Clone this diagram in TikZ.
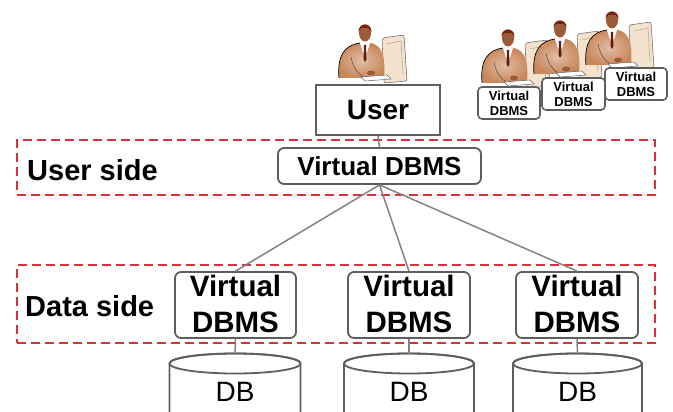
\documentclass[tikz,border=0pt]{standalone}
\usepackage{fontspec}
\setmainfont{Liberation Sans}
\definecolor{boxgray}{HTML}{5E5E5E}
\definecolor{linegray}{HTML}{838383}
\definecolor{sidered}{HTML}{DA323C}
\definecolor{skin}{HTML}{C8875A}
\definecolor{face}{HTML}{9A5B36}
\definecolor{hair}{HTML}{7A1E14}
\definecolor{monitor}{HTML}{F5E2CE}

\tikzset{
  plainbox/.style={draw=boxgray, line width=2pt, fill=white, inner sep=0pt},
  vbox/.style={draw=boxgray, line width=1.8pt, fill=white, rounded corners=6pt, inner sep=0pt, align=center},
  bigfont/.style={font=\fontsize{29.5}{36.5}\selectfont\bfseries},
  smallfont/.style={font=\fontsize{13}{15}\selectfont\bfseries},
  siderect/.style={draw=sidered, line width=1.8pt, dash pattern=on 9pt off 5pt, inner sep=0pt},
  sidelabel/.style={anchor=west, inner sep=0pt, font=\fontsize{29}{32}\selectfont\bfseries},
  link/.style={draw=linegray, line width=1.5pt},
  person/.pic={
    % monitor
    \filldraw[fill=monitor, draw=black!55, line width=0.6pt, rounded corners=2pt]
      (17,5) -- (39,2) -- (42,48) -- (19,50) -- cycle;
    \draw[black!35, line width=0.5pt] (22,11) -- (36,8) -- (38,42);
    % torso
    \shade[inner color=skin!55!white, outer color=skin]
      (-26,45) .. controls (-28,22) and (-20,12) .. (-5,10) -- (6,10)
      .. controls (16,12) and (21,22) .. (19,45) -- cycle;
    \draw[black, line width=0.7pt]
      (-26,45) .. controls (-28,22) and (-20,12) .. (-5,10);
    \draw[black!70, line width=0.5pt] (-14,24) .. controls (-12,34) and (-8,40) .. (-2,44);
    % collar and tie
    \fill[white] (-5,10) -- (5,10) -- (0,26) -- cycle;
    \fill[hair!80!black] (-1,12) -- (1,12) -- (1.5,26) -- (0,29) -- (-1.5,26) -- cycle;
    % hands on keyboard
    \filldraw[fill=white, draw=black!60, line width=0.5pt]
      (-4,44) -- (22,42) -- (26,46) -- (0,48) -- cycle;
    \fill[face] (6,40) ellipse (4 and 2.5);
    % head
    \fill[face] (0,0) ellipse (6 and 8.5);
    \fill[hair] (-6.5,-1) .. controls (-7,-11) and (7,-11) .. (6.5,-1)
      -- (4,-5) -- (-4,-5) -- cycle;
  }
}

\begin{document}
\begin{tikzpicture}[x=1pt, y=-1pt]
\useasboundingbox (0,0) rectangle (673,412);

% users at their workstations
\pic at (365,33) {person};
\pic at (508,38) {person};
\pic at (560,29) {person};
\pic at (612,20) {person};

% virtual DBMS instances of the other users
\node[vbox, smallfont, line width=1.6pt, rounded corners=4pt, minimum width=62pt, minimum height=32pt] (s1) at (509,103) {Virtual\\DBMS};
\node[vbox, smallfont, line width=1.6pt, rounded corners=4pt, minimum width=63pt, minimum height=32pt] (s2) at (573.5,94) {Virtual\\DBMS};
\node[vbox, smallfont, line width=1.6pt, rounded corners=4pt, minimum width=62pt, minimum height=32pt] (s3) at (636,84) {Virtual\\DBMS};

% side regions
\node[siderect, minimum width=638pt, minimum height=55pt] (userside) at (336,167.5) {};
\node[siderect, minimum width=638pt, minimum height=78pt] (dataside) at (336,304) {};
\node[sidelabel] (userlbl) at (27,170) {User side};
\node[sidelabel] (datalbl) at (25,306) {Data side};

% user and user-side virtual DBMS
\node[plainbox, font=\fontsize{28}{32}\selectfont\bfseries, minimum width=124pt, minimum height=50pt] (user) at (378,110) {User};
\node[vbox, font=\fontsize{26}{30}\selectfont\bfseries, minimum width=203pt, minimum height=36pt] (uv) at (379.5,166) {Virtual DBMS};

% data-side virtual DBMS instances
\node[vbox, minimum width=121pt, minimum height=66pt] (d1) at (235.5,305) {};
\node[vbox, minimum width=122pt, minimum height=66pt] (d2) at (409,305) {};
\node[vbox, minimum width=122pt, minimum height=66pt] (d3) at (577,305) {};
\foreach \n in {1,2,3}{
  \node[bigfont, align=center, inner sep=0pt] (t\n) at ([yshift=1pt]d\n.center) {Virtual\\DBMS};
}

% databases
\foreach \n/\cx/\rx in {1/235/65.5, 2/409/65, 3/577.5/64.5}{
  \filldraw[fill=white, draw=boxgray, line width=1.8pt]
    (\cx-\rx,363.5) -- (\cx-\rx,420) -- (\cx+\rx,420) -- (\cx+\rx,363.5)
    arc[start angle=0, end angle=-180, x radius=\rx, y radius=10];
  \draw[boxgray, line width=1.8pt] (\cx,363.5) ellipse[x radius=\rx, y radius=10];
  \coordinate (top\n) at (\cx,353.5);
  \node[font=\fontsize{28}{32}\selectfont] (db\n) at (\cx,392) {DB};
}

% connectors
\draw[link] (user.south) -- (uv.north);
\draw[link] (uv.south) -- (d1.north);
\draw[link] (uv.south) -- (d2.north);
\draw[link] (uv.south) -- (d3.north);
\draw[link] (d1.south) -- (top1);
\draw[link] (d2.south) -- (top2);
\draw[link] (d3.south) -- (top3);
\end{tikzpicture}
\end{document}
